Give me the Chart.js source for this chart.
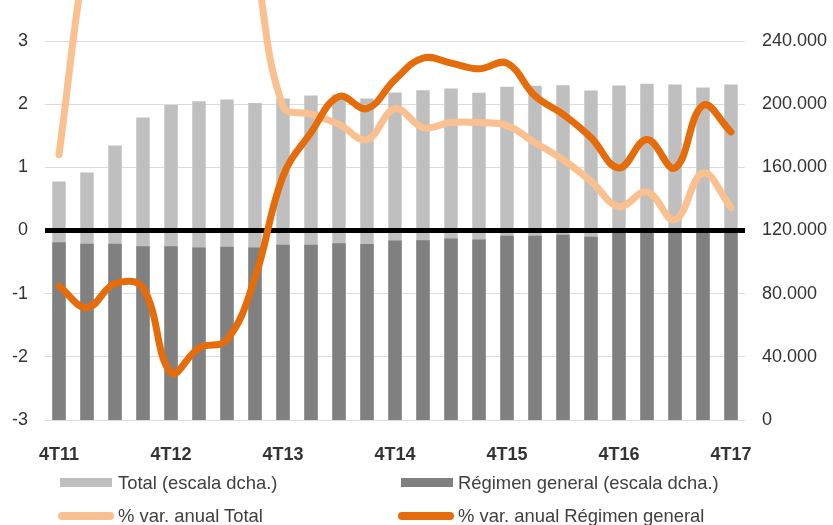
<!DOCTYPE html>
<html><head><meta charset="utf-8">
<script src="https://cdn.jsdelivr.net/npm/chart.js@4.4.1/dist/chart.umd.min.js"></script>
<style>
html,body{margin:0;padding:0;background:#fff;}
#wrap{position:relative;width:833px;height:525px;overflow:hidden;font-family:"Liberation Sans",Arial,sans-serif;}
canvas{position:absolute;left:0;top:0;}
.lg{position:absolute;font-size:18.4px;color:#404040;line-height:20px;white-space:nowrap;}
.sw{position:absolute;}
</style></head><body>
<div id="wrap">
<canvas id="c" width="833" height="525"></canvas>
<div class="sw" style="left:60px;top:478px;width:52px;height:9px;background:#BFBFBF"></div>
<div class="lg" style="left:118px;top:473px">Total (escala dcha.)</div>
<div class="sw" style="left:401px;top:478px;width:52px;height:9px;background:#808080"></div>
<div class="lg" style="left:458px;top:473px">Régimen general (escala dcha.)</div>
<div class="sw" style="left:58px;top:512px;width:56px;height:8px;border-radius:4px;background:#FAC090"></div>
<div class="lg" style="left:118px;top:506px">% var. anual Total</div>
<div class="sw" style="left:398px;top:512px;width:56px;height:8px;border-radius:4px;background:#E46C0A"></div>
<div class="lg" style="left:458px;top:506px">% var. anual Régimen general</div>
</div>
<script>
const categories = ["4T11","1T12","2T12","3T12","4T12","1T13","2T13","3T13","4T13","1T14","2T14","3T14","4T14","1T15","2T15","3T15","4T15","1T16","2T16","3T16","4T16","1T17","2T17","3T17","4T17"];
const totalBars = [151000,156700,173800,191600,199400,201900,203000,200800,203600,205500,206100,203600,207400,208800,209900,207200,211000,211600,212000,208600,211800,212900,212400,210500,212400];
const regimenBars = [112600,111600,111600,110100,110100,109200,109700,109200,110900,110900,112000,111400,113700,113900,114900,114300,116600,116600,117300,116000,118500,119000,119300,119500,119800];
const varTotal = [1.2,4.5,6.3,7.4,7.8,7.5,6.5,4.3,1.97,1.84,1.68,1.44,1.93,1.63,1.71,1.71,1.66,1.39,1.12,0.78,0.38,0.61,0.17,0.91,0.36];
const varRegimen = [-0.88,-1.22,-0.84,-0.91,-2.25,-1.86,-1.73,-0.75,0.86,1.55,2.12,1.93,2.39,2.73,2.65,2.56,2.65,2.13,1.84,1.47,0.99,1.44,0.99,1.98,1.56];
const leftTicks = [-3,-2,-1,0,1,2,3];
const rightTicks = [0,40000,80000,120000,160000,200000,240000];

function fmtThousands(v){ return String(v).replace(/\B(?=(\d{3})+(?!\d))/g,'.'); }

const zeroLine = {
  id:'zeroLine',
  afterDatasetDraw(chart,args){
    if(args.index!==1) return;
    const ctx=chart.ctx, y=chart.scales.y.getPixelForValue(0), a=chart.chartArea;
    ctx.save(); ctx.strokeStyle='#000'; ctx.lineWidth=5; ctx.beginPath();
    ctx.moveTo(a.left,y); ctx.lineTo(a.right,y); ctx.stroke(); ctx.restore();
  }
};

new Chart(document.getElementById('c'),{
  data:{
    labels:categories,
    datasets:[
      {type:'bar',label:'Total (escala dcha.)',data:totalBars,yAxisID:'y1',backgroundColor:'#BFBFBF',grouped:false,barPercentage:0.48,categoryPercentage:1,order:3},
      {type:'bar',label:'Régimen general (escala dcha.)',data:regimenBars,yAxisID:'y1',backgroundColor:'#808080',grouped:false,barPercentage:0.48,categoryPercentage:1,order:2},
      {type:'line',label:'% var. anual Total',data:varTotal,yAxisID:'y',borderColor:'#FAC090',borderWidth:7,pointRadius:0,tension:0.4,borderCapStyle:'round',borderJoinStyle:'round',clip:false,order:1},
      {type:'line',label:'% var. anual Régimen general',data:varRegimen,yAxisID:'y',borderColor:'#E46C0A',borderWidth:7,pointRadius:0,tension:0.4,borderCapStyle:'round',borderJoinStyle:'round',clip:false,order:0}
    ]
  },
  options:{
    responsive:false,animation:false,devicePixelRatio:1,
    layout:{padding:{top:41,bottom:65,left:0,right:0}},
    plugins:{legend:{display:false},tooltip:{enabled:false}},
    scales:{
      x:{grid:{display:false},border:{display:false},
        ticks:{autoSkip:false,maxRotation:0,padding:16,color:'#333',font:{family:'"Liberation Sans", Arial',size:18,weight:'bold'},
          callback:(v,i)=> i%4===0 ? categories[i] : ''},
        afterFit:s=>{s.height=40;}},
      y:{position:'left',min:-3,max:3,
        afterBuildTicks:s=>{s.ticks=leftTicks.map(v=>({value:v}));},
        grid:{drawTicks:false,color:c=>c.tick&&c.tick.value===0?'rgba(0,0,0,0)':'#DCDCDC',lineWidth:1},
        border:{display:false},
        ticks:{padding:17,color:'#333',font:{family:'"Liberation Sans", Arial',size:18}},
        afterFit:s=>{s.width=45;}},
      y1:{position:'right',min:0,max:240000,
        afterBuildTicks:s=>{s.ticks=rightTicks.map(v=>({value:v}));},
        grid:{display:false,drawTicks:false},border:{display:false},
        ticks:{padding:17,color:'#333',font:{family:'"Liberation Sans", Arial',size:18},callback:v=>fmtThousands(v)},
        afterFit:s=>{s.width=88;}}
    }
  },
  plugins:[zeroLine]
});
</script>
</body></html>
